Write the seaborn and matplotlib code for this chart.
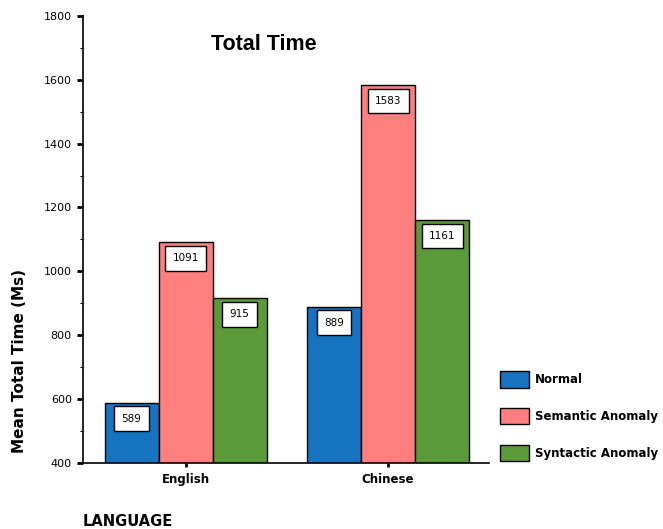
import matplotlib
matplotlib.use("Agg")
import matplotlib.pyplot as plt
import seaborn as sns
import pandas as pd
from matplotlib.ticker import MultipleLocator
from matplotlib.patches import Patch

languages = ["English", "Chinese"]
conditions = ["Normal", "Semantic Anomaly", "Syntactic Anomaly"]
normal = [589, 889]
semantic = [1091, 1583]
syntactic = [915, 1161]
colors = ["#1673bf", "#ff7f7f", "#5b9a38"]

rows = []
for cond, vals in zip(conditions, [normal, semantic, syntactic]):
    for lang, v in zip(languages, vals):
        rows.append({"Language": lang, "Condition": cond, "Time": v})
df = pd.DataFrame(rows)

sns.set_style("white")
plt.rcParams["font.family"] = ["DejaVu Sans"]
plt.rcParams["text.color"] = "black"
plt.rcParams["axes.labelcolor"] = "black"
plt.rcParams["xtick.color"] = "black"
plt.rcParams["ytick.color"] = "black"

fig = plt.figure(figsize=(6.63, 5.29), dpi=100)
ax = fig.add_axes([0.125, 0.125, 0.613, 0.845])

sns.barplot(data=df, x="Language", y="Time", hue="Condition",
            order=languages, hue_order=conditions, palette=colors,
            edgecolor="black", linewidth=1.0, saturation=1, width=0.8,
            legend=False, ax=ax)

ax.set_ylim(400, 1800)
ax.set_xlim(-0.507, 1.5)
ax.yaxis.set_major_locator(MultipleLocator(200))
ax.yaxis.set_minor_locator(MultipleLocator(100))
ax.tick_params(axis="y", which="major", direction="out", length=4, width=2,
               labelsize=8, pad=4, left=True)
ax.tick_params(axis="y", which="minor", direction="out", length=2.5, width=0.8, left=True)
ax.tick_params(axis="x", which="major", direction="out", length=3, width=2,
               labelsize=8.5, pad=4, bottom=True)
for lbl in ax.get_xticklabels():
    lbl.set_fontweight("bold")

for side in ["top", "right"]:
    ax.spines[side].set_visible(False)
for side in ["left", "bottom"]:
    ax.spines[side].set_color("black")
    ax.spines[side].set_linewidth(1.2)

ax.set_xlabel("")
ax.set_ylabel("Mean Total Time (Ms)", fontsize=11, fontweight="bold")
ax.yaxis.set_label_coords(-0.138, 0.228)

# value boxes near the top of each bar
for container, vals in zip(ax.containers, [normal, semantic, syntactic]):
    for bar, v in zip(container, vals):
        cx = bar.get_x() + bar.get_width() / 2
        ax.annotate(f"{v}", xy=(cx, v), xytext=(0, -11.5), textcoords="offset points",
                    ha="center", va="center", fontsize=7.5,
                    bbox=dict(boxstyle="square,pad=0.7", fc="white", ec="black", lw=1.0))

fig.text(264 / 663, 1 - 44 / 529, "Total Time", ha="center", va="center",
         fontsize=15.5, fontweight="bold", family=["Liberation Sans", "DejaVu Sans"])
fig.text(0.125, 1 - 521 / 529, "LANGUAGE", ha="left", va="center",
         fontsize=10.5, fontweight="bold")

handles = [Patch(facecolor=c, edgecolor="black", linewidth=1.0) for c in colors]
fig.legend(handles, conditions, loc="upper left", bbox_to_anchor=(500 / 663, 1 - 371 / 529),
           frameon=False, prop={"size": 8.5, "weight": "bold"},
           handlelength=2.45, handleheight=1.8, handletextpad=0.5, labelspacing=1.7,
           borderpad=0, borderaxespad=0)

fig.savefig("out.png", dpi=100, facecolor="white")
